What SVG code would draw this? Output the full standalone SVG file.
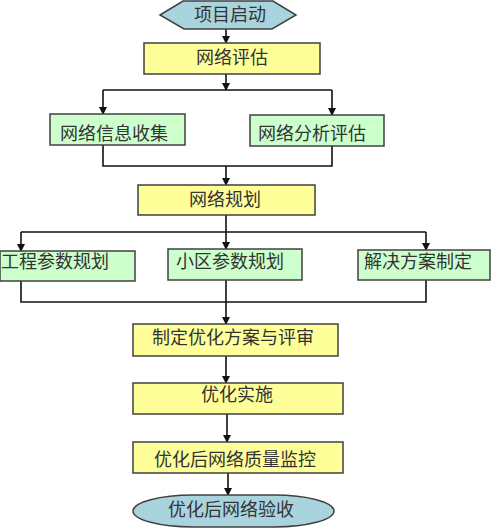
<svg xmlns="http://www.w3.org/2000/svg" width="500" height="530" viewBox="0 0 500 530">
<style>
.y{fill:#FFFF99;stroke:#404040;stroke-width:1.5}
.g{fill:#CCFFCC;stroke:#404040;stroke-width:1.5}
.b{fill:#A9D3DD;stroke:#404040;stroke-width:1.5}
.t{font-family:"Noto Sans CJK SC","Noto Sans",sans-serif;font-size:18px;fill:#333;text-anchor:middle}
.c{fill:none;stroke:#111;stroke-width:1.6}
</style>
<defs>
<marker id="ah" markerWidth="8" markerHeight="8" refX="7" refY="4" orient="auto" markerUnits="userSpaceOnUse">
<path d="M0,0 L8,4 L0,8 Z" fill="#111"/>
</marker>
</defs>
<rect width="500" height="530" fill="#fff"/>
<g id="connectors">
<path class="c" d="M226,29 V43" marker-end="url(#ah)"/>
<path class="c" d="M103,90 H332"/>
<path class="c" d="M226,74 V90" marker-end="url(#ah)"/>
<path class="c" d="M103,90 V114" marker-end="url(#ah)"/>
<path class="c" d="M332,90 V115" marker-end="url(#ah)"/>
<path class="c" d="M103,145 V166 H332 V146"/>
<path class="c" d="M226,166 V185" marker-end="url(#ah)"/>
<path class="c" d="M21,232 H426"/>
<path class="c" d="M21,232 V251" marker-end="url(#ah)"/>
<path class="c" d="M226,215 V249" marker-end="url(#ah)"/>
<path class="c" d="M426,232 V250" marker-end="url(#ah)"/>
<path class="c" d="M21,281 V302 H426 V280"/>
<path class="c" d="M226,280 V324" marker-end="url(#ah)"/>
<path class="c" d="M226,356 V383" marker-end="url(#ah)"/>
<path class="c" d="M227,414 V442" marker-end="url(#ah)"/>
<path class="c" d="M228,473 V495" marker-end="url(#ah)"/>
</g>
<g id="start">
<polygon class="b" points="160,15 183,1 273,1 296,15 272,29 184,29"/>
<text class="t" x="230" y="21">项目启动</text>
</g>
<g id="eval">
<rect class="y" x="144" y="43" width="176" height="31"/>
<text class="t" x="232" y="64">网络评估</text>
</g>
<g id="collect">
<rect class="g" x="50" y="114" width="135" height="31"/>
<text class="t" x="114" y="140">网络信息收集</text>
</g>
<g id="analyze">
<rect class="g" x="250" y="115" width="134" height="31"/>
<text class="t" x="312" y="140">网络分析评估</text>
</g>
<g id="plan">
<rect class="y" x="138" y="185" width="177" height="30"/>
<text class="t" x="225" y="206">网络规划</text>
</g>
<g id="eng">
<rect class="g" x="0" y="251" width="135" height="30"/>
<text class="t" x="55" y="268">工程参数规划</text>
</g>
<g id="cell">
<rect class="g" x="168" y="249" width="134" height="31"/>
<text class="t" x="230" y="268">小区参数规划</text>
</g>
<g id="solution">
<rect class="g" x="358" y="250" width="132" height="30"/>
<text class="t" x="418" y="268">解决方案制定</text>
</g>
<g id="review">
<rect class="y" x="133" y="324" width="205" height="32"/>
<text class="t" x="233" y="344">制定优化方案与评审</text>
</g>
<g id="implement">
<rect class="y" x="133" y="383" width="210" height="31"/>
<text class="t" x="237" y="401">优化实施</text>
</g>
<g id="monitor">
<rect class="y" x="133" y="442" width="210" height="31"/>
<text class="t" x="235" y="466">优化后网络质量监控</text>
</g>
<g id="accept">
<rect class="b" x="133" y="495" width="201" height="32" rx="60" ry="16"/>
<text class="t" x="231" y="516">优化后网络验收</text>
</g>
</svg>
